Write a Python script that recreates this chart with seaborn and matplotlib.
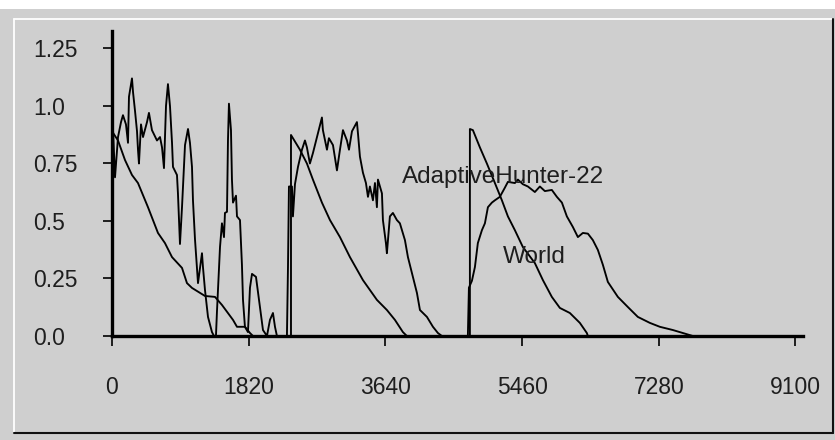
import matplotlib
matplotlib.use("Agg")
import matplotlib.pyplot as plt
import seaborn as sns
import pandas as pd
from matplotlib.lines import Line2D
from matplotlib.patches import Rectangle

# ---------------- data ----------------
hunter_x = [0, 0, 13, 40, 80, 120, 146, 186, 213, 226,
            266, 280, 306, 333, 346, 359, 386, 413, 466, 492,
            532, 599, 639, 666, 692, 719, 745, 772, 799, 812,
            865, 878, 905, 932, 972, 1012, 1038, 1065, 1078, 1105,
            1131, 1145, 1198, 1211, 1238, 1278, 1331, 1358, 1384, 1398,
            1411, 1438, 1464, 1491, 1504, 1531, 1544, 1557, 1584, 1597,
            1611, 1651, 1664, 1704, 1730, 1744, 1770, 1810, 1837, 1864,
            1917, 1970, 2010, 2063, 2103, 2143, 2170, 2196, 2329, 2343,
            2356, 2396, 2409, 2436, 2476, 2529, 2569, 2595, 2635, 2675,
            2729, 2795, 2808, 2862, 2888, 2942, 2995, 3035, 3075, 3128,
            3155, 3195, 3261, 3275, 3301, 3341, 3381, 3408, 3434, 3474,
            3501, 3527, 3541, 3594, 3607, 3647, 3660, 3700, 3740, 3793,
            3833, 3900, 3940, 3993, 4060, 4100, 4193, 4273, 4339, 4392,
            4738, 4752, 4792, 4832, 4871, 4925, 4965, 5005, 5058, 5098,
            5164, 5231, 5271, 5364, 5404, 5470, 5537, 5630, 5697, 5763,
            5856, 5923, 5990, 6056, 6136, 6203, 6269, 6336, 6402, 6469,
            6535, 6602, 6735, 6868, 7001, 7161, 7294, 7467, 7600, 7733]
hunter_y = [0, 0.90, 0.90, 0.69, 0.865, 0.93, 0.96, 0.92, 0.84, 1.04,
            1.12, 1.06, 0.98, 0.89, 0.81, 0.75, 0.92, 0.865, 0.93, 0.97,
            0.895, 0.85, 0.865, 0.82, 0.73, 1.0, 1.095, 1.0, 0.84, 0.735,
            0.70, 0.62, 0.40, 0.56, 0.83, 0.90, 0.84, 0.735, 0.59, 0.42,
            0.30, 0.23, 0.36, 0.30, 0.20, 0.083, 0.017, 0.0, 0.0, 0.11,
            0.20, 0.387, 0.49, 0.43, 0.535, 0.54, 0.85, 1.01, 0.895, 0.68,
            0.58, 0.61, 0.52, 0.504, 0.31, 0.157, 0.04, 0.017, 0.21, 0.27,
            0.257, 0.126, 0.026, 0.0, 0.07, 0.10, 0.04, 0.0, 0.0, 0.30,
            0.65, 0.65, 0.52, 0.66, 0.735, 0.81, 0.85, 0.82, 0.75, 0.795,
            0.865, 0.95, 0.895, 0.81, 0.86, 0.83, 0.72, 0.81, 0.895, 0.85,
            0.81, 0.89, 0.93, 0.88, 0.78, 0.71, 0.665, 0.605, 0.65, 0.59,
            0.665, 0.56, 0.68, 0.62, 0.504, 0.404, 0.36, 0.52, 0.535, 0.504,
            0.49, 0.417, 0.343, 0.274, 0.187, 0.113, 0.083, 0.04, 0.013, 0.0,
            0.0, 0.21, 0.24, 0.30, 0.404, 0.46, 0.49, 0.56, 0.58, 0.59,
            0.605, 0.645, 0.67, 0.665, 0.68, 0.66, 0.65, 0.626, 0.65, 0.63,
            0.635, 0.605, 0.58, 0.52, 0.474, 0.43, 0.448, 0.445, 0.417, 0.374,
            0.31, 0.235, 0.17, 0.126, 0.083, 0.057, 0.04, 0.026, 0.013, 0.0]

world_x = [0, 80, 173, 266, 346, 479, 612, 705, 799, 932,
           998, 1065, 1238, 1371, 1464, 1611, 1664, 1770, 1837, 1877,
           2383, 2383, 2502, 2595, 2675, 2795, 2902, 3035, 3168, 3341,
           3527, 3660, 3767, 3873, 3926, 4765, 4765, 4805, 4898, 4991,
           5098, 5191, 5271, 5364, 5470, 5630, 5737, 5856, 5963, 6096,
           6229, 6322, 6336]
world_y = [0.89, 0.85, 0.765, 0.70, 0.665, 0.56, 0.448, 0.404, 0.343, 0.296,
           0.23, 0.209, 0.174, 0.17, 0.135, 0.07, 0.04, 0.04, 0.013, 0.0,
           0.0, 0.874, 0.81, 0.75, 0.68, 0.58, 0.504, 0.43, 0.343, 0.243,
           0.157, 0.113, 0.07, 0.017, 0.0, 0.0, 0.9, 0.895, 0.82, 0.75,
           0.665, 0.59, 0.52, 0.46, 0.387, 0.317, 0.243, 0.17, 0.122, 0.1,
           0.057, 0.013, 0.0]

series_names = ["AdaptiveHunter-22", "World"]
x_ticks = [0, 1820, 3640, 5460, 7280, 9100]
x_tick_labels = ["0", "1820", "3640", "5460", "7280", "9100"]
y_ticks = [0.0, 0.25, 0.5, 0.75, 1.0, 1.25]
y_tick_labels = ["0.0", "0.25", "0.5", "0.75", "1.0", "1.25"]
label_pos = {"AdaptiveHunter-22": (3860, 0.665), "World": (5204, 0.317)}

# ---------------- style ----------------
BG = "#cfcfcf"
TXT = "#1e1e1e"
sns.set_theme(style="white")
plt.rcParams["font.family"] = ["Liberation Sans", "DejaVu Sans"]

W, H = 835, 440
fig = plt.figure(figsize=(W / 100, H / 100), dpi=100, facecolor=BG)


def fx(x):
    return x / W


def fy(y):
    return 1 - y / H


# window-like decorations
fig.patches.append(Rectangle((0, fy(9)), 1, 9 / H, transform=fig.transFigure,
                             facecolor="white", edgecolor="none", zorder=0))
fig.lines.append(Line2D([fx(14), fx(833)], [fy(19), fy(19)], transform=fig.transFigure,
                        color="white", lw=1.3))
fig.lines.append(Line2D([fx(14), fx(14)], [fy(19), fy(433)], transform=fig.transFigure,
                        color="white", lw=1.3))
fig.lines.append(Line2D([fx(14), fx(833)], [fy(433), fy(433)], transform=fig.transFigure,
                        color="#111111", lw=1.5))
fig.lines.append(Line2D([fx(833), fx(833)], [fy(19), fy(433)], transform=fig.transFigure,
                        color="#111111", lw=1.5))

ax = fig.add_axes([fx(112), fy(336), (803 - 112) / W, (336 - 31) / H])
ax.set_facecolor(BG)

df = pd.concat([
    pd.DataFrame({"step": hunter_x, "value": hunter_y, "series": series_names[0]}),
    pd.DataFrame({"step": world_x, "value": world_y, "series": series_names[1]}),
], ignore_index=True)

sns.lineplot(data=df, x="step", y="value", units="series", estimator=None,
             sort=False, color="black", lw=1.35, ax=ax, legend=False)

ax.set_xlim(0, 9200)
ax.set_ylim(0, 1.326)
ax.set_xlabel("")
ax.set_ylabel("")

for s in ["top", "right"]:
    ax.spines[s].set_visible(False)
for s in ["left", "bottom"]:
    ax.spines[s].set_color("black")
    ax.spines[s].set_linewidth(2.4)

ax.set_xticks(x_ticks)
ax.set_xticklabels(x_tick_labels)
ax.set_yticks(y_ticks)
ax.set_yticklabels(y_tick_labels)
ax.tick_params(axis="x", direction="out", length=7.2, width=1.2, color="black",
               pad=21.5, labelsize=16.5, labelcolor=TXT, bottom=True)
ax.tick_params(axis="y", direction="out", length=6.5, width=1.2, color="black",
               pad=50, labelsize=16.5, labelcolor=TXT, left=True)
for lab in ax.get_yticklabels():
    lab.set_horizontalalignment("left")

for name, (lx, ly) in label_pos.items():
    ax.text(lx, ly, name, fontsize=17.5, color=TXT, ha="left", va="baseline")

fig.savefig("out.png", dpi=100, facecolor=BG)
